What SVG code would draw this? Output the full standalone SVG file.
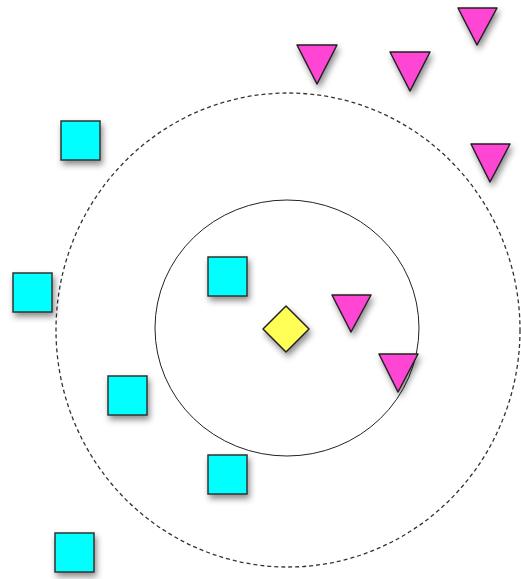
<svg xmlns="http://www.w3.org/2000/svg" width="521" height="579" viewBox="0 0 521 579">
<defs>
<filter id="sh" x="-50%" y="-50%" width="200%" height="200%">
<feDropShadow dx="2" dy="4" stdDeviation="3" flood-color="#000" flood-opacity="0.45"/>
</filter>
<style>
.sq{fill:#00ffff;stroke:#333;stroke-width:1.5;filter:url(#sh)}
.tri{fill:#ff44d4;stroke:#222;stroke-width:1.5;stroke-linejoin:round;filter:url(#sh)}
.dia{fill:#ffff55;stroke:#222;stroke-width:1.5;stroke-linejoin:round;filter:url(#sh)}
.ring{fill:none;stroke:#222;stroke-width:1}
.dash{fill:none;stroke:#333;stroke-width:1.3;stroke-dasharray:4 3}
</style>
</defs>
<rect width="521" height="579" fill="#fff"/>
<g id="connectors">
<ellipse class="dash" cx="288" cy="330" rx="232" ry="237"/>
<ellipse class="ring" cx="287" cy="328" rx="132" ry="128"/>
</g>
<g id="sq1"><rect class="sq" x="61" y="121" width="39" height="39"/></g>
<g id="sq2"><rect class="sq" x="13" y="273" width="39" height="39"/></g>
<g id="sq3"><rect class="sq" x="208" y="257" width="39" height="39"/></g>
<g id="sq4"><rect class="sq" x="108" y="376" width="39" height="39"/></g>
<g id="sq5"><rect class="sq" x="208" y="455" width="39" height="39"/></g>
<g id="sq6"><rect class="sq" x="55" y="533" width="39" height="39"/></g>
<g id="tri1"><polygon class="tri" points="297,45 337,45 317,84"/></g>
<g id="tri2"><polygon class="tri" points="390,52 430,52 410,91"/></g>
<g id="tri3"><polygon class="tri" points="458,8 497,8 477,45"/></g>
<g id="tri4"><polygon class="tri" points="471,144 510,144 490,182"/></g>
<g id="tri5"><polygon class="tri" points="332,295 371,295 351,332"/></g>
<g id="tri6"><polygon class="tri" points="379,354 418,354 398,392"/></g>
<g id="query"><polygon class="dia" points="286,306 309,329 286,352 263,329"/></g>
</svg>
